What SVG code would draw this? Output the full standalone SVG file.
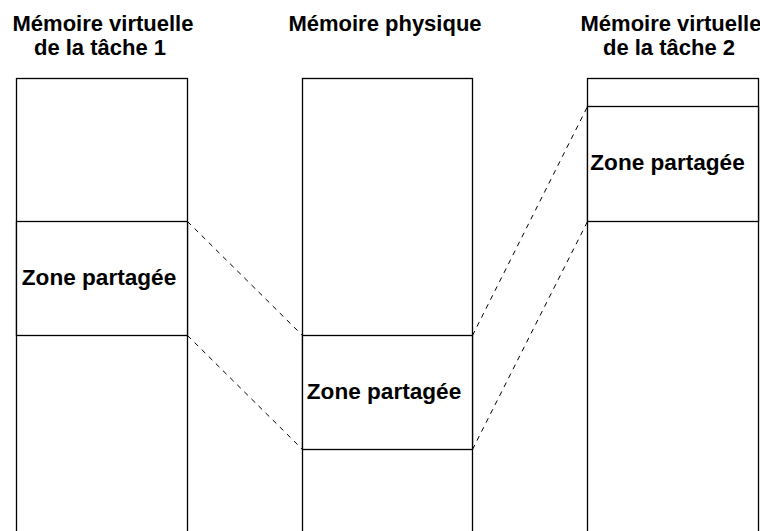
<svg xmlns="http://www.w3.org/2000/svg" width="760" height="531" viewBox="0 0 760 531">
<style>
.box{fill:#fff;stroke:#000;stroke-width:1.3}
.t{font-family:"Liberation Sans",Arial,sans-serif;font-weight:bold;font-size:22px;fill:#000;text-anchor:middle}
.z{font-size:22.6px}
.d{stroke:#000;stroke-width:1;stroke-dasharray:5,5;fill:none}
</style>
<rect width="760" height="531" fill="#fff"/>
<g id="title-virt1">
<text class="t" x="103" y="31">Mémoire virtuelle</text>
<text class="t" x="100" y="55">de la tâche 1</text>
</g>
<g id="title-phys">
<text class="t" x="385" y="31">Mémoire physique</text>
</g>
<g id="title-virt2">
<text class="t" x="671" y="31">Mémoire virtuelle</text>
<text class="t" x="669" y="55">de la tâche 2</text>
</g>
<g id="virt1">
<rect class="box" x="16.5" y="78.5" width="171" height="470"/>
<rect class="box" x="16.5" y="221.5" width="171" height="114"/>
<text class="t z" x="99" y="285">Zone partagée</text>
</g>
<g id="phys">
<rect class="box" x="302.5" y="78.5" width="170" height="470"/>
<rect class="box" x="302.5" y="335.5" width="170" height="114"/>
<text class="t z" x="384" y="399">Zone partagée</text>
</g>
<g id="virt2">
<rect class="box" x="587.5" y="78.5" width="171" height="470"/>
<rect class="box" x="587.5" y="106.5" width="171" height="115"/>
<text class="t z" x="667.5" y="170">Zone partagée</text>
</g>
<g id="connectors">
<line class="d" x1="187.5" y1="221.5" x2="302.5" y2="335.5"/>
<line class="d" x1="187.5" y1="335.5" x2="302.5" y2="449.5"/>
<line class="d" x1="472.5" y1="335.5" x2="587.5" y2="106.5"/>
<line class="d" x1="472.5" y1="449.5" x2="587.5" y2="221.5"/>
</g>
</svg>
